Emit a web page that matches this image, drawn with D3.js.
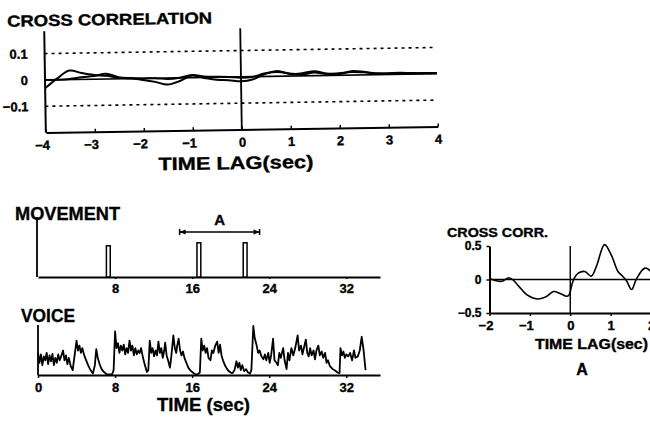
<!DOCTYPE html>
<html>
<head>
<meta charset="utf-8">
<script src="https://cdn.jsdelivr.net/npm/d3@7"></script>
<style>
  body { margin: 0; background: #fff; }
  svg { display: block; font-family: "Liberation Sans", Arial, sans-serif; font-weight: bold; }
  svg text { stroke: #000; stroke-width: 0.35; }
  .domain { stroke: #000; stroke-width: 2; }
  .tick line { stroke: #000; stroke-width: 1.5; }
  .tick text { fill: #000; font-weight: bold; }
</style>
</head>
<body>
<div id="chart"></div>
<script>
// Top panel: cross correlation, lag -4..4 sec
const lags = [-4, -3.75, -3.5, -3.25, -3, -2.75, -2.5, -2.25, -2, -1.75, -1.5, -1.25, -1, -0.75, -0.5, -0.25,
  0, 0.25, 0.5, 0.75, 1, 1.25, 1.5, 1.75, 2, 2.25, 2.5, 2.75, 3, 3.25, 3.5, 3.75, 4];
const corrA = [-0.032, 0.005, 0.034, 0.024, 0.016, 0.012, 0.004, 0, -0.006, -0.014, -0.025, -0.012, 0.008, -0.002, -0.01, -0.012,
  -0.017, -0.01, 0.01, 0.02, 0.008, 0.01, 0.017, 0.008, 0.004, 0.015, 0.012, 0.004, 0.005, 0.006, 0.004, 0.003, 0.002];
const corrB = [0, 0, 0.002, 0.008, 0.012, 0.02, 0.006, 0.002, 0, 0, -0.004, 0, 0.01, 0.004, 0.002, 0,
  -0.003, 0, 0.012, 0.016, 0.01, 0.006, 0.012, 0.006, 0.008, 0.012, 0.01, 0.006, 0.003, 0.005, 0.003, 0.004, 0.003];
const confLimit = 0.1;
const lagTicks = [-4, -3, -2, -1, 0, 1, 2, 3, 4];
const corrTicks = [-0.1, 0, 0.1];

// Movement pulses (sec)
const moveOnsets = [7.1, 16.5, 21.3];
const moveHeights = [0.52, 0.57, 0.57];
const moveWidth = 0.4;
const sectionA = [14.7, 23.0];
const timeTicks = [0, 8, 16, 24, 32];

// Voice amplitude trace
const voiceT = [0, 0.15, 0.3, 0.45, 0.6, 0.75, 0.9, 1.05, 1.2, 1.35, 1.5, 1.65, 1.8, 1.95, 2.1, 2.25, 2.4, 2.6, 2.75, 2.9,
  3.05, 3.2, 3.4, 3.6, 3.8, 4.0, 4.15, 4.3, 4.45, 4.6, 4.8, 5.0, 5.2, 5.45, 5.7, 5.9, 6.05, 6.2, 6.4, 6.6,
  6.85, 7.1, 7.4, 7.7, 7.85, 8.0, 8.15, 8.3, 8.45, 8.6, 8.75, 8.9, 9.05, 9.2, 9.35, 9.5, 9.65, 9.8, 9.95, 10.1,
  10.25, 10.4, 10.55, 10.7, 10.9, 11.1, 11.3, 11.45, 11.6, 11.75, 11.9, 12.05, 12.2, 12.35, 12.5, 12.65, 12.8, 12.95, 13.1, 13.2,
  13.35, 13.5, 13.7, 13.85, 14.05, 14.2, 14.35, 14.45, 14.6, 14.75, 14.9, 15.05, 15.2, 15.4, 15.6, 15.8, 16.0, 16.2, 16.4, 16.6,
  16.8, 16.95, 17.1, 17.25, 17.4, 17.55, 17.7, 17.9, 18.05, 18.2, 18.4, 18.6, 18.75, 18.9, 19.05, 19.2, 19.4, 19.6, 19.8, 20.0,
  20.2, 20.4, 20.6, 20.75, 20.9, 21.05, 21.2, 21.4, 21.6, 21.8, 22.0, 22.15, 22.35, 22.5, 22.7, 22.85, 23.0, 23.2, 23.4, 23.55,
  23.7, 23.9, 24.05, 24.2, 24.4, 24.55, 24.75, 24.9, 25.05, 25.2, 25.45, 25.6, 25.8, 25.95, 26.1, 26.3, 26.5, 26.7, 26.95, 27.1,
  27.3, 27.45, 27.6, 27.8, 27.95, 28.1, 28.25, 28.4, 28.6, 28.75, 28.9, 29.1, 29.25, 29.45, 29.6, 29.8, 29.95, 30.1, 30.3, 30.6,
  30.9, 31.1, 31.3, 31.4, 31.55, 31.7, 31.85, 32.0, 32.2, 32.4, 32.6, 32.8, 32.95, 33.2, 33.4, 33.6, 33.8, 34.0];
const voiceAmp = [0.45, 0.25, 0.42, 0.2, 0.38, 0.3, 0.45, 0.22, 0.4, 0.28, 0.43, 0.2, 0.35, 0.25, 0.42, 0.3, 0.38, 0.5, 0.3, 0.4,
  0.22, 0.35, 0.18, 0.1, 0.4, 0.7, 0.5, 0.6, 0.45, 0.55, 0.4, 0.3, 0.2, 0.1, 0.03, 0.2, 0.53, 0.35, 0.22, 0.12,
  0.06, 0.02, 0.01, 0.02, 0.1, 0.89, 0.55, 0.65, 0.45, 0.6, 0.5, 0.62, 0.42, 0.55, 0.45, 0.7, 0.5, 0.6, 0.4, 0.55,
  0.42, 0.5, 0.45, 0.55, 0.35, 0.2, 0.06, 0.1, 0.7, 0.45, 0.55, 0.38, 0.5, 0.4, 0.68, 0.45, 0.55, 0.35, 0.5, 0.66,
  0.4, 0.3, 0.15, 0.4, 0.81, 0.55, 0.45, 0.6, 0.74, 0.5, 0.4, 0.48, 0.35, 0.25, 0.15, 0.1, 0.06, 0.03, 0.01, 0.02,
  0.05, 0.74, 0.5, 0.6, 0.45, 0.55, 0.35, 0.3, 0.5, 0.45, 0.6, 0.68, 0.45, 0.62, 0.4, 0.3, 0.2, 0.13, 0.08, 0.05,
  0.04, 0.1, 0.28, 0.15, 0.25, 0.1, 0.2, 0.08, 0.12, 0.05, 0.03, 0.1, 1.0, 0.75, 0.6, 0.45, 0.5, 0.38, 0.32, 0.42,
  0.3, 0.45, 0.25, 0.4, 0.74, 0.3, 0.25, 0.2, 0.45, 0.35, 0.55, 0.3, 0.12, 0.45, 0.3, 0.55, 0.4, 0.55, 0.81, 0.5,
  0.6, 0.42, 0.55, 0.72, 0.45, 0.38, 0.55, 0.4, 0.5, 0.32, 0.5, 0.6, 0.4, 0.48, 0.35, 0.45, 0.25, 0.3, 0.18, 0.12,
  0.08, 0.05, 0.04, 0.55, 0.4, 0.48, 0.35, 0.42, 0.38, 0.45, 0.3, 0.5, 0.35, 0.38, 0.5, 0.78, 0.5, 0.1];

// Panel A: cross correlation over section A
const lagsA = [-2, -1.86, -1.69, -1.52, -1.4, -1.24, -1.07, -0.82, -0.61, -0.41, -0.25, -0.09, -0.03, 0.07, 0.19, 0.36,
  0.52, 0.65, 0.85, 1.02, 1.18, 1.27, 1.39, 1.52, 1.64, 1.85, 2];
const corrSectionA = [0.01, -0.016, -0.027, 0.027, -0.016, -0.125, -0.23, -0.29, -0.26, -0.18, -0.21, -0.25, -0.23, -0.02, 0.09, 0.12,
  0.05, 0.2, 0.52, 0.36, 0.12, 0.065, -0.016, -0.15, 0.01, 0.17, 0.12];
const lagTicksA = [-2, -1, 0, 1, 2];
const corrTicksA = [-0.5, 0, 0.5];

const width = 650, height = 421;
const minus = v => (v < 0 ? "\u2212" + Math.abs(v) : String(v));

const svg = d3.select("#chart").append("svg")
  .attr("width", width)
  .attr("height", height);
svg.append("rect").attr("width", width).attr("height", height).attr("fill", "#fff");

// stretched label helper (the scanned lettering is wide)
function label(g, txt, xPos, yPos, size, len) {
  return g.append("text")
    .attr("x", xPos).attr("y", yPos)
    .attr("font-size", size)
    .attr("textLength", len)
    .attr("lengthAdjust", "spacingAndGlyphs")
    .text(txt);
}

// ---------- top panel ----------
const x = d3.scaleLinear().domain([-4, 4]).range([45, 437]);
const y = d3.scaleLinear().domain([-0.2, 0.18]).range([129.5, 29.5]);

const ccPanel = svg.append("g").attr("transform", "rotate(-0.9, 240, 78)");

ccPanel.selectAll(".conf")
  .data([confLimit, -confLimit])
  .enter().append("line")
  .attr("x1", x(-4)).attr("x2", x(4))
  .attr("y1", d => y(d)).attr("y2", d => y(d))
  .attr("stroke", "#000").attr("stroke-width", 1.6)
  .attr("stroke-dasharray", "3,4");

ccPanel.append("line")
  .attr("x1", x(-4)).attr("x2", x(4))
  .attr("y1", y(0)).attr("y2", y(0))
  .attr("stroke", "#000").attr("stroke-width", 1.6);

ccPanel.append("line")
  .attr("x1", x(0)).attr("x2", x(0))
  .attr("y1", y(-0.2)).attr("y2", y(0.185))
  .attr("stroke", "#000").attr("stroke-width", 1.8);

const line = d3.line()
  .x(d => x(d[0]))
  .y(d => y(d[1]))
  .curve(d3.curveCatmullRom);

[corrA, corrB].forEach(series => {
  ccPanel.append("path")
    .datum(lags.map((l, i) => [l, series[i]]))
    .attr("fill", "none")
    .attr("stroke", "#000")
    .attr("stroke-width", 2)
    .attr("d", line);
});

ccPanel.append("g")
  .attr("transform", `translate(0,${y(-0.2)})`)
  .call(d3.axisBottom(x).tickValues(lagTicks).tickSizeInner(-3).tickSizeOuter(0).tickPadding(8).tickFormat(minus))
  .call(g => g.selectAll("text").attr("font-size", 13).attr("dx", d => d < 0 ? -4 : 0));

ccPanel.append("g")
  .attr("transform", `translate(${x(-4)},0)`)
  .call(d3.axisLeft(y).tickValues(corrTicks).tickSize(0).tickPadding(17).tickFormat(minus))
  .call(g => g.selectAll("text").attr("font-size", 13))
  .call(g => g.select(".domain").attr("d", `M0,${y(-0.2)}V${y(0.185)}`));

label(ccPanel, "CROSS CORRELATION", 8, 23, 16, 205);
label(ccPanel, "TIME LAG(sec)", 157, 169, 18, 155);

// ---------- movement panel ----------
const t = d3.scaleLinear().domain([0, 35.5]).range([38, 380]);
const my = d3.scaleLinear().domain([0, 1]).range([277, 217]);

const move = svg.append("g");

move.append("g")
  .attr("transform", `translate(0,${my(0)})`)
  .call(d3.axisBottom(t).tickValues(timeTicks.slice(1)).tickSize(2).tickPadding(5).tickSizeOuter(0))
  .call(g => g.selectAll("text").attr("font-size", 13));

move.append("line")
  .attr("x1", t(0) - 1).attr("x2", t(0) - 1)
  .attr("y1", my(0)).attr("y2", my(1))
  .attr("stroke", "#000").attr("stroke-width", 1.8);

move.selectAll(".pulse")
  .data(moveOnsets)
  .enter().append("rect")
  .attr("x", d => t(d))
  .attr("width", d => t(d + moveWidth) - t(d))
  .attr("y", (d, i) => my(moveHeights[i]))
  .attr("height", (d, i) => my(0) - my(moveHeights[i]))
  .attr("fill", "#fff")
  .attr("stroke", "#000")
  .attr("stroke-width", 1.5);

// section A bracket
const by = my(0.75);
move.append("line")
  .attr("x1", t(sectionA[0])).attr("x2", t(sectionA[1]))
  .attr("y1", by).attr("y2", by)
  .attr("stroke", "#000").attr("stroke-width", 1.5);
sectionA.forEach((s, i) => {
  const dir = i === 0 ? 1 : -1;
  const xe = t(s);
  move.append("line")
    .attr("x1", xe).attr("x2", xe)
    .attr("y1", by - 3).attr("y2", by + 3)
    .attr("stroke", "#000").attr("stroke-width", 1.5);
  move.append("path")
    .attr("d", `M${xe},${by}L${xe + dir * 6},${by - 2.5}L${xe + dir * 6},${by + 2.5}Z`)
    .attr("fill", "#000");
});
move.append("text")
  .attr("x", t((sectionA[0] + sectionA[1]) / 2))
  .attr("y", by - 7)
  .attr("text-anchor", "middle")
  .attr("font-size", 15)
  .text("A");

label(move, "MOVEMENT", 15, 220, 18, 105);

// ---------- voice panel ----------
const vy = d3.scaleLinear().domain([0, 1]).range([375, 326]);
const voice = svg.append("g");

voice.append("path")
  .datum(voiceT.map((tt, i) => [tt, voiceAmp[i]]))
  .attr("fill", "none")
  .attr("stroke", "#000")
  .attr("stroke-width", 1.8)
  .attr("stroke-linejoin", "round")
  .attr("d", d3.line().x(d => t(d[0])).y(d => vy(d[1])));

voice.append("g")
  .attr("transform", `translate(0,${vy(0)})`)
  .call(d3.axisBottom(t).tickValues(timeTicks).tickSize(3).tickPadding(5).tickSizeOuter(0))
  .call(g => g.selectAll("text").attr("font-size", 13));

voice.append("line")
  .attr("x1", t(0)).attr("x2", t(0))
  .attr("y1", vy(0)).attr("y2", vy(1.02))
  .attr("stroke", "#000").attr("stroke-width", 1.8);

label(voice, "VOICE", 21, 322, 18, 54);
label(voice, "TIME (sec)", 157, 411, 18, 93);

// ---------- panel A ----------
const ax = d3.scaleLinear().domain([-2, 2]).range([489.5, 651]);
const ay = d3.scaleLinear().domain([-0.5, 0.5]).range([313, 246]);
const pa = svg.append("g");

pa.append("line")
  .attr("x1", ax(-2)).attr("x2", ax(2))
  .attr("y1", ay(0)).attr("y2", ay(0))
  .attr("stroke", "#000").attr("stroke-width", 1.4);

pa.append("line")
  .attr("x1", ax(0)).attr("x2", ax(0))
  .attr("y1", ay(-0.5)).attr("y2", ay(0.5))
  .attr("stroke", "#000").attr("stroke-width", 1.4);

pa.append("path")
  .datum(lagsA.map((l, i) => [l, corrSectionA[i]]))
  .attr("fill", "none")
  .attr("stroke", "#000")
  .attr("stroke-width", 1.6)
  .attr("d", d3.line().x(d => ax(d[0])).y(d => ay(d[1])).curve(d3.curveCatmullRom));

pa.append("g")
  .attr("transform", `translate(0,${ay(-0.5)})`)
  .call(d3.axisBottom(ax).tickValues(lagTicksA).tickSize(3).tickPadding(5).tickSizeOuter(0).tickFormat(minus))
  .call(g => g.selectAll("text").attr("font-size", 13).attr("dx", d => d < 0 ? -4 : 0));

pa.append("g")
  .attr("transform", `translate(${ax(-2)},0)`)
  .call(d3.axisLeft(ay).tickValues(corrTicksA).tickSize(3).tickPadding(5).tickSizeOuter(0).tickFormat(minus))
  .call(g => g.selectAll("text").attr("font-size", 12));

label(pa, "CROSS CORR.", 447, 237, 12, 101);
label(pa, "TIME LAG(sec)", 535, 349, 14, 113);

pa.append("text")
  .attr("x", 582).attr("y", 375)
  .attr("text-anchor", "middle")
  .attr("font-size", 16)
  .text("A");
</script>
</body>
</html>
